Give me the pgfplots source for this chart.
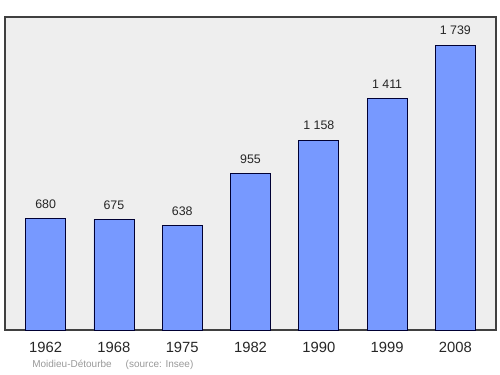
\documentclass[border=0pt]{standalone}
\usepackage{fontspec}
\setmainfont{Liberation Sans}
\usepackage{pgfplots}
\pgfplotsset{compat=1.18}
\definecolor{barblue}{HTML}{7799FF}
\definecolor{bgray}{HTML}{EEEEEE}
\begin{document}
\begin{tikzpicture}
\path (0pt,0pt) rectangle (375pt,280.5pt);
\begin{axis}[
  at={(3.75pt,33pt)}, anchor=south west,
  scale only axis, width=368.25pt, height=234.75pt,
  xmin=-0.595, xmax=6.595, ymin=0, ymax=1910,
  axis background/.style={fill=bgray},
  axis line style={draw=black!75, line width=0.9pt},
  xtick={0,1,2,3,4,5,6},
  xticklabels={1962,1968,1975,1982,1990,1999,2008},
  ytick=\empty,
  major tick length=0pt,
  tick label style={font=\fontsize{11.1}{12}\selectfont, text=black!85},
  xticklabel style={yshift=-5.5pt},
  clip=false,
]
\addplot[ybar, bar width=30pt, fill=barblue, draw=black!80!blue, line width=0.6pt,
  nodes near coords, point meta=explicit symbolic,
  every node near coord/.style={font=\fontsize{9.3}{10}\selectfont, anchor=south, yshift=4pt, text=black!85}]
  table[meta=lab] {
x y lab
0 680 680
1 675 675
2 638 638
3 955 955
4 1158 {1\ 158}
5 1411 {1\ 411}
6 1739 {1\ 739}
};
\end{axis}
\node[anchor=west, text=black!40, font=\fontsize{7.5}{8}\selectfont, inner xsep=0pt] at (24pt,6.5pt) {Moidieu-Détourbe\hspace{1.4em}(source: Insee)};
\end{tikzpicture}
\end{document}
